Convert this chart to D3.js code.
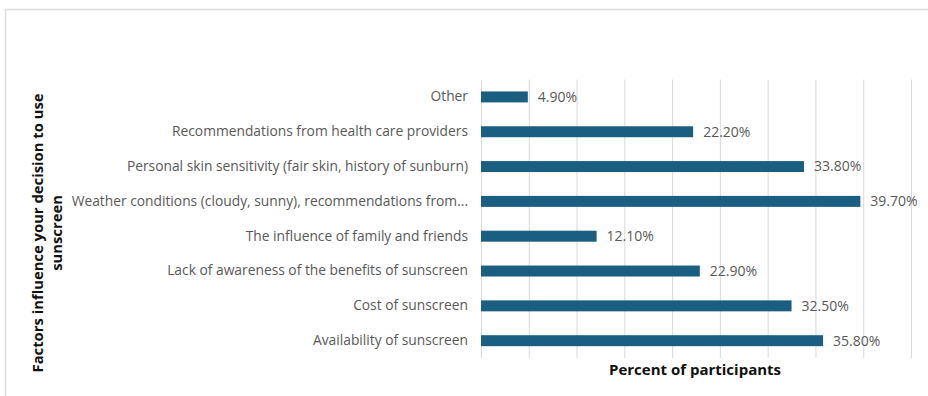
<!DOCTYPE html>
<html>
<head>
<meta charset="utf-8">
<script src="https://cdn.jsdelivr.net/npm/d3@7"></script>
<style>
  html, body { margin: 0; padding: 0; background: #fff; }
  svg { display: block; }
</style>
</head>
<body>
<svg id="chart" width="928" height="396"></svg>
<script>
// Survey factors, listed top to bottom
const factors = [
  "Other",
  "Recommendations from health care providers",
  "Personal skin sensitivity (fair skin, history of sunburn)",
  "Weather conditions (cloudy, sunny), recommendations from...",
  "The influence of family and friends",
  "Lack of awareness of the benefits of sunscreen",
  "Cost of sunscreen",
  "Availability of sunscreen"
];
const percents = [4.9, 22.2, 33.8, 39.7, 12.1, 22.9, 32.5, 35.8];
const gridTicks = [0, 5, 10, 15, 20, 25, 30, 35, 40, 45];

const W = 928, H = 396;
const margin = { top: 79.6, right: 17, bottom: 38, left: 481 };
const font = "'Open Sans', 'Liberation Sans', sans-serif";
const textGray = "#595959";

const svg = d3.select("#chart");

// outer frame
svg.append("path")
  .attr("d", `M5.5,${H} V9.5 H${W}`)
  .attr("fill", "none")
  .attr("stroke", "#dcdcdc")
  .attr("stroke-width", 1.5);

const x = d3.scaleLinear().domain([0, 45]).range([margin.left, 911]);
const y = d3.scaleBand().domain(factors).range([margin.top, H - margin.bottom]).paddingInner(0.685).paddingOuter(0.34);

// vertical gridlines
svg.append("g")
  .attr("transform", `translate(0,${margin.top})`)
  .call(d3.axisTop(x).tickValues(gridTicks).tickSize(-(H - margin.bottom - margin.top)).tickFormat(""))
  .call(g => g.select(".domain").remove())
  .call(g => g.selectAll("line").attr("stroke", "#d9d9d9").attr("stroke-width", 1));

// category axis
svg.append("g")
  .attr("transform", `translate(${margin.left - 13},0)`)
  .call(d3.axisLeft(y).tickSize(0).tickPadding(0))
  .call(g => g.select(".domain").remove())
  .call(g => g.selectAll("text")
    .attr("fill", textGray)
    .style("font-family", font)
    .style("font-size", "13.8px"));

// bars
svg.append("g")
  .selectAll("rect")
  .data(factors)
  .join("rect")
  .attr("x", x(0))
  .attr("y", d => y(d))
  .attr("width", (d, i) => x(percents[i]) - x(0))
  .attr("height", y.bandwidth())
  .attr("fill", "#1a5f82");

// value labels
svg.append("g")
  .selectAll("text")
  .data(factors)
  .join("text")
  .attr("x", (d, i) => x(percents[i]) + 10)
  .attr("y", d => y(d) + y.bandwidth() / 2)
  .attr("dy", "0.35em")
  .attr("fill", textGray)
  .style("font-family", font)
  .style("font-size", "14px")
  .text((d, i) => d3.format(".2f")(percents[i]) + "%");

// axis titles
svg.append("text")
  .attr("x", 695)
  .attr("y", 375)
  .attr("text-anchor", "middle")
  .attr("fill", "#111")
  .style("font-family", font)
  .style("font-size", "15px")
  .style("font-weight", "bold")
  .text("Percent of participants");

const yTitle = svg.append("text")
  .attr("transform", "translate(0,233) rotate(-90)")
  .attr("text-anchor", "middle")
  .attr("fill", "#111")
  .style("font-family", font)
  .style("font-size", "14.8px")
  .style("font-weight", "bold");
yTitle.append("tspan").attr("x", 0).attr("y", 43).text("Factors influence your decision to use");
yTitle.append("tspan").attr("x", 0).attr("y", 62).text("sunscreen");
</script>
</body>
</html>
